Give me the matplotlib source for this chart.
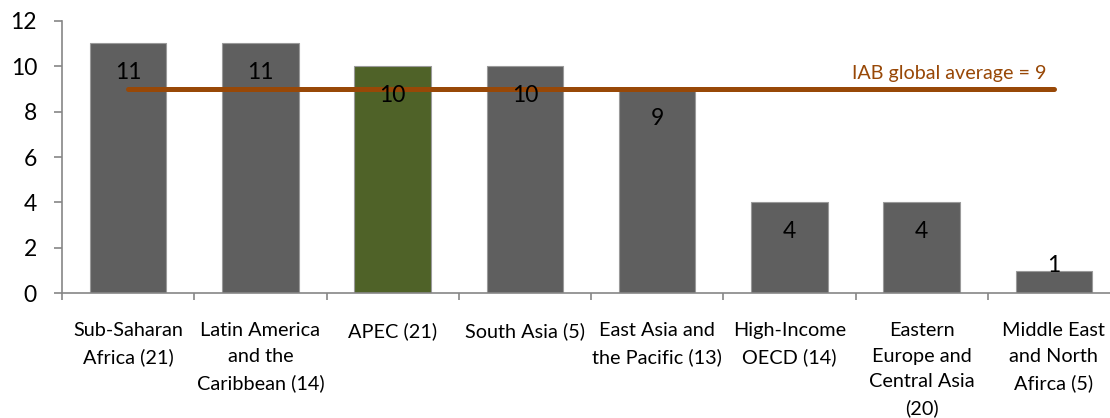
import matplotlib
matplotlib.use("Agg")
import matplotlib.pyplot as plt

categories = ["Sub-Saharan\nAfrica (21)", "Latin America\nand the\nCaribbean (14)", "APEC (21)",
              "South Asia (5)", "East Asia and\nthe Pacific (13)", "High-Income\nOECD (14)",
              "Eastern\nEurope and\nCentral Asia\n(20)", "Middle East\nand North\nAfirca (5)"]
values = [11, 11, 10, 10, 9, 4, 4, 1]
highlight = "APEC (21)"
global_avg = 9
avg_label = "IAB global average = 9"
yticks = [0, 2, 4, 6, 8, 10, 12]

plt.rcParams['font.family'] = ['Lato', 'DejaVu Sans']

GRAY = "#5f5f5f"
GREEN = "#4f6228"
BROWN = "#984807"
AXIS = "#868686"

fig = plt.figure(figsize=(11.1, 4.18), dpi=100)
ax = fig.add_axes([62/1110, (418-293.3)/418, 1058/1110, (293.3-20.7)/418])

x = list(range(len(categories)))
colors = [GREEN if c == highlight else GRAY for c in categories]
ax.bar(x, values, width=0.58, color=colors, edgecolor="#9a9a9a", linewidth=0.8, zorder=2)

ax.plot([x[0], x[-1]], [global_avg, global_avg], color=BROWN, linewidth=3.6,
        solid_capstyle="round", zorder=3)
ax.annotate(avg_label, xy=(x[-1], global_avg), xytext=(-5, 5), textcoords="offset points",
            ha="right", va="bottom", color=BROWN, fontsize=14.2, zorder=4)

for xi, v in zip(x, values):
    if v > 2:
        ax.annotate(str(v), xy=(xi, v), xytext=(0, -21), textcoords="offset points",
                    ha="center", va="center", fontsize=16.5, color="black", zorder=4)
    else:
        ax.annotate(str(v), xy=(xi, v), xytext=(0, 3.5), textcoords="offset points",
                    ha="center", va="center", fontsize=16.5, color="black", zorder=4)

ax.set_xlim(-0.5, len(categories) - 0.5)
ax.set_ylim(0, 12)
ax.set_yticks(yticks)
ax.set_yticklabels([str(t) for t in yticks], fontsize=16.5)
ax.tick_params(axis="y", length=6, width=1.2, color=AXIS, pad=12, direction="out")

ax.set_xticks([i - 0.5 for i in range(len(categories) + 1)], minor=False)
ax.set_xticklabels([])
ax.tick_params(axis="x", length=5, width=1.2, color=AXIS, direction="out")
ax.set_xticks(x, minor=True)
ax.set_xticklabels(categories, minor=True, fontsize=14.3, linespacing=1.6, va="top")
ax.tick_params(axis="x", which="minor", length=0, pad=21)

for s in ["top", "right"]:
    ax.spines[s].set_visible(False)
for s in ["left", "bottom"]:
    ax.spines[s].set_color(AXIS)
    ax.spines[s].set_linewidth(1.2)

fig.savefig("out.png", dpi=100)
